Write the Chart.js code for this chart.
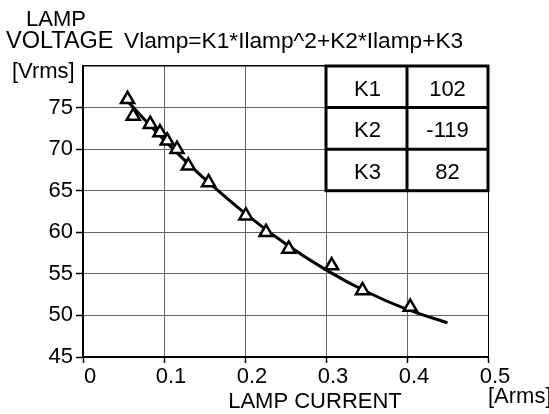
<!DOCTYPE html>
<html>
<head>
<meta charset="utf-8">
<script src="https://cdn.jsdelivr.net/npm/chart.js@4.4.1/dist/chart.umd.min.js"></script>
<style>
  html, body { margin: 0; padding: 0; background: #fff; }
  #wrap { width: 549px; height: 414px; }
</style>
</head>
<body>
<div id="wrap"><canvas id="lampChart" width="549" height="414"></canvas></div>
<script>
// measured lamp operating points
const lampCurrent = [0.055, 0.062, 0.083, 0.095, 0.104, 0.116, 0.130, 0.155, 0.201, 0.226, 0.254, 0.307, 0.345, 0.404];
const lampVoltage = [76, 74, 73, 72, 71, 70, 68, 66, 62, 60, 58, 56, 53, 51];

// quadratic fit coefficients shown in the table
const coefNames = ["K1", "K2", "K3"];
const coefValues = [102, -119, 82];

// currents where the fitted curve is evaluated
const fitCurrent = [0.055, 0.075, 0.1, 0.125, 0.15, 0.2, 0.25, 0.3, 0.35, 0.4, 0.45];

const xTicks = [0, 0.1, 0.2, 0.3, 0.4, 0.5];
const yTicks = [45, 50, 55, 60, 65, 70, 75, 80];

const FONT = "'Liberation Sans', Arial, sans-serif";

const [K1, K2, K3] = coefValues;
const fitPoints = fitCurrent.map(i => ({ x: i, y: K1 * i * i + K2 * i + K3 }));
const measured = lampCurrent.map((i, n) => ({ x: i, y: lampVoltage[n] }));

// titles, axis captions and the coefficient table
const annotations = {
  id: "annotations",
  afterDraw(chart) {
    const ctx = chart.ctx;
    const { x, y } = chart.scales;
    const area = chart.chartArea;
    ctx.save();
    ctx.fillStyle = "#000";
    ctx.textBaseline = "alphabetic";

    ctx.font = "22px " + FONT;
    ctx.textAlign = "center";
    ctx.fillText("LAMP", 56, 26);
    ctx.textAlign = "left";
    ctx.font = "23.5px " + FONT;
    ctx.fillText("VOLTAGE", 6, 48);
    ctx.font = "22.7px " + FONT;
    ctx.fillText("Vlamp=K1*Ilamp^2+K2*Ilamp+K3", 124, 48);
    ctx.font = "22px " + FONT;
    ctx.fillText("[Vrms]", 12, area.top + 12);

    ctx.textAlign = "center";
    ctx.fillText("LAMP CURRENT", 315, 408);
    ctx.textAlign = "left";
    ctx.fillText("[Arms]", area.right, 403);

    // coefficient table sits in the 0.3-0.5 / 65-80 corner
    const left = x.getPixelForValue(xTicks[3]);
    const mid = x.getPixelForValue(xTicks[4]);
    const right = x.getPixelForValue(xTicks[5]);
    const rows = coefNames.map((name, n) => ({
      top: y.getPixelForValue(yTicks[7] - 5 * n),
      bottom: y.getPixelForValue(yTicks[6] - 5 * n)
    }));
    const top = rows[0].top;
    const bottom = rows[rows.length - 1].bottom;
    ctx.fillStyle = "#fff";
    ctx.fillRect(left, top, right - left, bottom - top);
    ctx.strokeStyle = "#000";
    ctx.lineWidth = 3;
    ctx.strokeRect(left, top, right - left, bottom - top);
    ctx.beginPath();
    ctx.moveTo(mid, top);
    ctx.lineTo(mid, bottom);
    rows.slice(1).forEach(r => {
      ctx.moveTo(left, r.top);
      ctx.lineTo(right, r.top);
    });
    ctx.stroke();

    ctx.fillStyle = "#000";
    ctx.textAlign = "center";
    ctx.textBaseline = "middle";
    rows.forEach((r, n) => {
      const cy = (r.top + r.bottom) / 2 + 3;
      ctx.fillText(coefNames[n], (left + mid) / 2 + 1, cy);
      ctx.fillText(String(coefValues[n]), (mid + right) / 2, cy);
    });
    ctx.restore();
  }
};

new Chart(document.getElementById("lampChart"), {
  type: "scatter",
  data: {
    datasets: [
      {
        label: "Measured",
        data: measured,
        showLine: false,
        pointStyle: "triangle",
        pointRadius: 7.5,
        pointBorderWidth: 2.5,
        pointBorderColor: "#000",
        pointBackgroundColor: "#fff"
      },
      {
        label: "Fit",
        data: fitPoints,
        showLine: true,
        borderColor: "#000",
        borderWidth: 3,
        pointRadius: 0,
        cubicInterpolationMode: "monotone",
        fill: false
      }
    ]
  },
  options: {
    responsive: false,
    animation: false,
    devicePixelRatio: 1,
    layout: { padding: { left: 0, right: 61, top: 66, bottom: 0 } },
    plugins: {
      legend: { display: false },
      tooltip: { enabled: false }
    },
    scales: {
      x: {
        type: "linear",
        min: xTicks[0],
        max: xTicks[xTicks.length - 1],
        afterFit(scale) { scale.height = 57; },
        afterBuildTicks(scale) { scale.ticks = xTicks.map(v => ({ value: v })); },
        border: { color: "#000", width: 2 },
        grid: {
          color: c => (c.tick && c.tick.value === 0.5 ? "#000" : "#666"),
          lineWidth: 1,
          tickLength: 6,
          tickColor: "#000",
          tickWidth: 1.5
        },
        ticks: {
          color: "#000",
          font: { family: FONT, size: 22 },
          padding: 1,
          labelOffset: 7,
          maxRotation: 0,
          callback: v => (v === 0 ? "0" : String(+v.toFixed(1)))
        }
      },
      y: {
        type: "linear",
        min: yTicks[0],
        max: yTicks[yTicks.length - 1],
        afterFit(scale) { scale.width = 83; },
        afterBuildTicks(scale) { scale.ticks = yTicks.map(v => ({ value: v })); },
        border: { color: "#000", width: 2 },
        grid: {
          color: c => (c.tick && c.tick.value === 80 ? "#000" : "#666"),
          lineWidth: c => (c.tick && c.tick.value === 80 ? 1.5 : 1),
          tickLength: 7,
          tickColor: c => (c.tick && c.tick.value === 80 ? "rgba(0,0,0,0)" : "#000"),
          tickWidth: 1.5
        },
        ticks: {
          color: "#000",
          font: { family: FONT, size: 22 },
          padding: 3,
          callback: v => (v === 80 ? "" : String(v))
        }
      }
    }
  },
  plugins: [annotations]
});
</script>
</body>
</html>
